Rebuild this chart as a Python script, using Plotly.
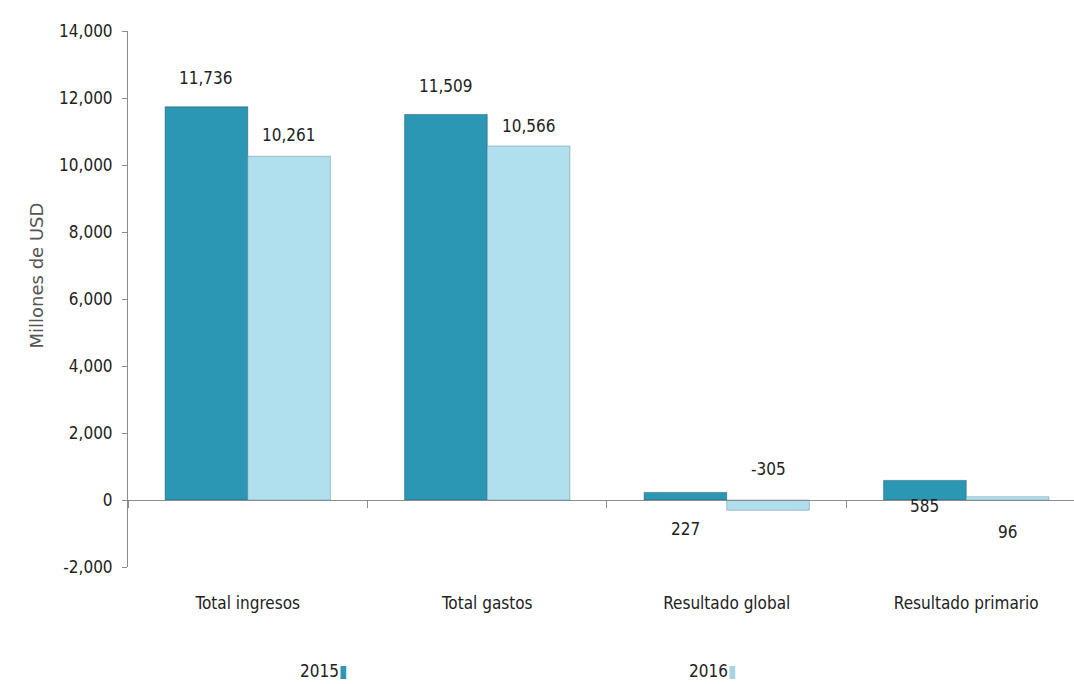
import plotly.graph_objects as go

# Fiscal summary, millions of USD
categories = ["Total ingresos", "Total gastos", "Resultado global", "Resultado primario"]
years = ["2015", "2016"]
values_2015 = [11736, 11509, 227, 585]
values_2016 = [10261, 10566, -305, 96]
y_ticks = [-2000, 0, 2000, 4000, 6000, 8000, 10000, 12000, 14000]

# vertical pixel offsets of the value labels from the bar ends
label_shift_2015 = [29, 28, -37, -26]
label_shift_2016 = [21, 20, 41, -35]

color_2015 = "#2b97b4"
color_2016 = "#b0e0ee"
label_font = dict(family="Liberation Sans Narrow, DejaVu Sans Condensed, Arial Narrow, sans-serif",
                  size=17, color="#222222")

fig = go.Figure()
fig.add_trace(go.Bar(name=years[0], x=categories, y=values_2015,
                     marker=dict(color=color_2015, line=dict(color="rgba(20,70,90,0.45)", width=1))))
fig.add_trace(go.Bar(name=years[1], x=categories, y=values_2016,
                     marker=dict(color=color_2016, line=dict(color="rgba(90,130,145,0.45)", width=1))))

bar_half = 0.1725
annotations = []
for i, (v, s) in enumerate(zip(values_2015, label_shift_2015)):
    annotations.append(dict(x=i - bar_half, y=v, xref="x", yref="y", text=f"{v:,}",
                            showarrow=False, yanchor="middle", yshift=s, font=label_font))
for i, (v, s) in enumerate(zip(values_2016, label_shift_2016)):
    annotations.append(dict(x=i + bar_half, y=v, xref="x", yref="y", text=f"{v:,}",
                            showarrow=False, yanchor="middle", yshift=s, font=label_font))

# axis title
annotations.append(dict(x=0, y=0.543, xref="paper", yref="paper", xshift=-104,
                        text="Millones de USD", textangle=-90, showarrow=False,
                        font=dict(family="DejaVu Sans, sans-serif", size=18, color="#555555")))

# year key below the categories
annotations.append(dict(x=0.207, y=-0.217, xref="paper", yref="paper", xanchor="center",
                        text=f"{years[0]}<span style='color:{color_2015}'>▮</span>", showarrow=False,
                        font=label_font))
annotations.append(dict(x=0.618, y=-0.217, xref="paper", yref="paper", xanchor="center",
                        text=f"{years[1]}<span style='color:#a9d3e0'>▮</span>", showarrow=False,
                        font=label_font))

fig.update_layout(
    width=1074, height=684,
    margin=dict(l=128, r=0, t=31, b=117),
    paper_bgcolor="white", plot_bgcolor="white",
    barmode="group", bargap=0.31, bargroupgap=0,
    showlegend=False,
    annotations=annotations,
    xaxis=dict(type="category", categoryarray=categories, range=[-0.5, 3.45],
               anchor="free", position=0.125,
               showline=True, linecolor="#8c8c8c", linewidth=1,
               ticks="outside", tickson="boundaries", ticklen=7, tickcolor="#8c8c8c",
               ticklabelstandoff=88, tickfont=label_font, showgrid=False, zeroline=False),
    yaxis=dict(range=[-2000, 14000], tickmode="array", tickvals=y_ticks,
               ticktext=[f"{v:,}" for v in y_ticks],
               showline=True, linecolor="#8c8c8c", linewidth=1,
               ticks="outside", ticklen=5, tickcolor="#8c8c8c", ticklabelstandoff=6,
               tickfont=label_font, showgrid=False, zeroline=False),
)

fig.write_html("out.html")
